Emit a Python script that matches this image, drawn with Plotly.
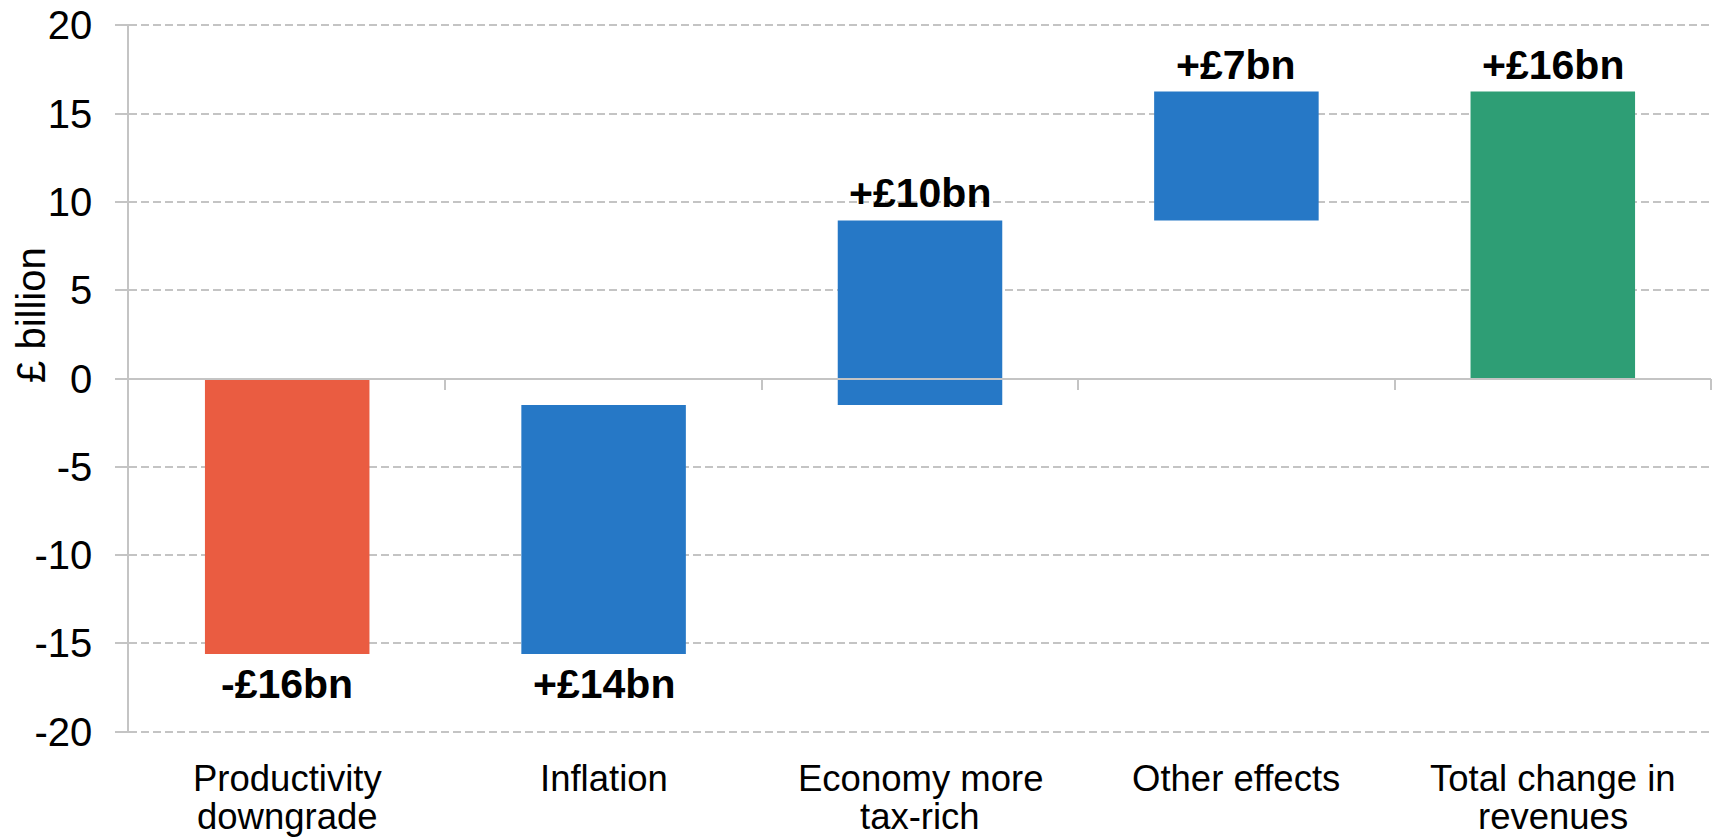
import plotly.graph_objects as go

# Contributions to the change in tax revenues (£ billion)
categories = [
    "Productivity<br>downgrade",
    "Inflation",
    "Economy more<br>tax-rich",
    "Other effects",
    "Total change in<br>revenues",
]
changes = [-15.6, 14.1, 10.45, 7.3]
measures = ["relative", "relative", "relative", "relative", "total"]
y_ticks = [-20, -15, -10, -5, 0, 5, 10, 15, 20]
y_tick_text = ["-20", "-15", "-10", "-5", "0", "5", "10", "15", "20"]

RED = "#EA5C41"
BLUE = "#2678C6"
GREEN = "#2E9E75"
GRID = "#C4C4C4"
FONT = "Liberation Sans, Arial, sans-serif"

total = sum(changes)
values = changes + [total]

fig = go.Figure()
fig.add_trace(go.Waterfall(
    x=categories,
    y=values,
    measure=measures,
    base=0,
    width=0.52,
    decreasing=dict(marker=dict(color=RED)),
    increasing=dict(marker=dict(color=BLUE)),
    totals=dict(marker=dict(color=GREEN)),
    connector=dict(visible=False),
    hoverinfo="x+y",
    showlegend=False,
))
# carrier for the category-boundary axis drawn along zero
fig.add_trace(go.Scatter(x=[None], y=[None], xaxis="x2", showlegend=False, hoverinfo="skip"))


def fmt(v):
    sign = "-" if v < 0 else "+"
    return f"{sign}£{round(abs(v))}bn"


# value labels at the end of each bar furthest from zero
annotations = []
running = 0.0
for i, (cat, m, v) in enumerate(zip(categories, measures, values)):
    if m == "total":
        start, end = 0.0, total
    else:
        start, end = running, running + v
        running = end
    lo, hi = min(start, end), max(start, end)
    below = abs(lo) > abs(hi)
    annotations.append(dict(
        x=i, y=lo if below else hi, xref="x", yref="y",
        text=f"<b>{fmt(v)}</b>", showarrow=False,
        yanchor="top" if below else "bottom",
        yshift=-5 if below else 2,
        font=dict(family=FONT, size=41, color="black"),
    ))

# category labels, one annotation per line for tight line spacing
for i, cat in enumerate(categories):
    for j, line in enumerate(cat.split("<br>")):
        annotations.append(dict(
            x=i, y=0, xref="x", yref="paper",
            text=line, showarrow=False, yanchor="middle",
            yshift=-45 - 38.5 * j,
            font=dict(family=FONT, size=36.5, color="black"),
        ))

# y-axis title
annotations.append(dict(
    x=-0.0624, y=0.59, xref="paper", yref="paper",
    text="£ billion", textangle=-90, showarrow=False,
    xanchor="center", yanchor="middle",
    font=dict(family=FONT, size=40, color="black"),
))

fig.update_layout(
    width=1714,
    height=839,
    margin=dict(l=129, r=3, t=24, b=106),
    paper_bgcolor="white",
    plot_bgcolor="white",
    font=dict(family=FONT, color="black"),
    annotations=annotations,
    xaxis=dict(
        type="category",
        range=[-0.5, 4.5],
        showticklabels=False,
        showgrid=False,
        zeroline=False,
        showline=False,
        ticks="",
    ),
    xaxis2=dict(
        overlaying="x",
        anchor="free",
        position=0.5,
        range=[-0.5, 4.5],
        tickmode="array",
        tickvals=[0.5, 1.5, 2.5, 3.5, 4.5],
        ticks="outside",
        ticklen=11,
        tickwidth=1.5,
        tickcolor=GRID,
        showticklabels=False,
        showgrid=False,
        zeroline=False,
        showline=True,
        linecolor=GRID,
        linewidth=1.5,
        layer="above traces",
    ),
    yaxis=dict(
        range=[-20.08, 20.08],
        tickmode="array",
        tickvals=y_ticks,
        ticktext=y_tick_text,
        ticks="outside",
        ticklen=12,
        tickwidth=1.5,
        tickcolor=GRID,
        ticklabelstandoff=15,
        tickfont=dict(family=FONT, size=40, color="black"),
        showgrid=True,
        gridcolor=GRID,
        gridwidth=1.5,
        griddash="8px,4px",
        zeroline=False,
        showline=True,
        linecolor=GRID,
        linewidth=1.5,
    ),
)

fig.write_html("out.html")
